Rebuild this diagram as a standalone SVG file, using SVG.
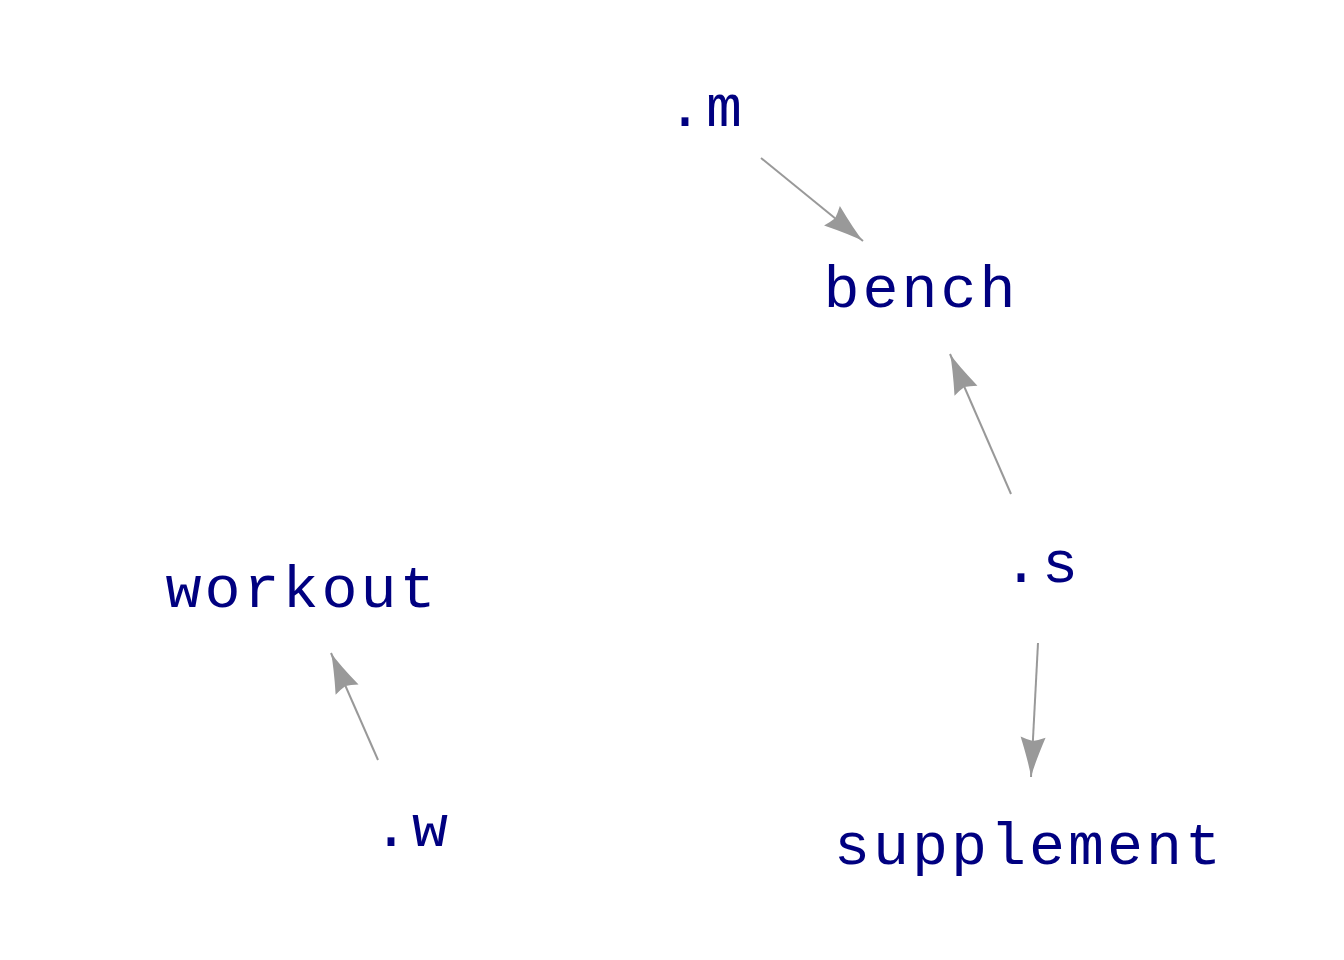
<svg xmlns="http://www.w3.org/2000/svg" width="1344" height="960" viewBox="0 0 1344 960">
<style>
.lbl{font-family:"Liberation Mono",monospace;font-size:60px;letter-spacing:3px;fill:#000080;text-anchor:middle}
.edge{stroke:#999999;stroke-width:2;fill:none;marker-end:url(#ah)}
</style>
<defs>
<marker id="ah" markerUnits="userSpaceOnUse" markerWidth="50" markerHeight="30" viewBox="-42 -15 44 30" refX="0" refY="0" orient="auto">
<path d="M0,0 Q-14,-3 -40,-12.5 Q-37,-5 -36,0 Q-37,5 -40,12.5 Q-14,3 0,0 Z" fill="#999999"/>
</marker>
</defs>
<rect width="1344" height="960" fill="#ffffff"/>
<g id="connectors">
<line class="edge" x1="761" y1="158" x2="863" y2="241"/>
<line class="edge" x1="1011" y1="494" x2="950" y2="354"/>
<line class="edge" x1="1038" y1="643" x2="1031" y2="777"/>
<line class="edge" x1="378" y1="760" x2="331" y2="653"/>
</g>
<g id="node-m"><text class="lbl" x="706" y="126">.m</text></g>
<g id="node-bench"><text class="lbl" x="921" y="307">bench</text></g>
<g id="node-s"><text class="lbl" x="1042" y="582">.s</text></g>
<g id="node-workout"><text class="lbl" x="302" y="607">workout</text></g>
<g id="node-w"><text class="lbl" x="412" y="846">.w</text></g>
<g id="node-supplement"><text class="lbl" x="1029" y="864">supplement</text></g>
</svg>
